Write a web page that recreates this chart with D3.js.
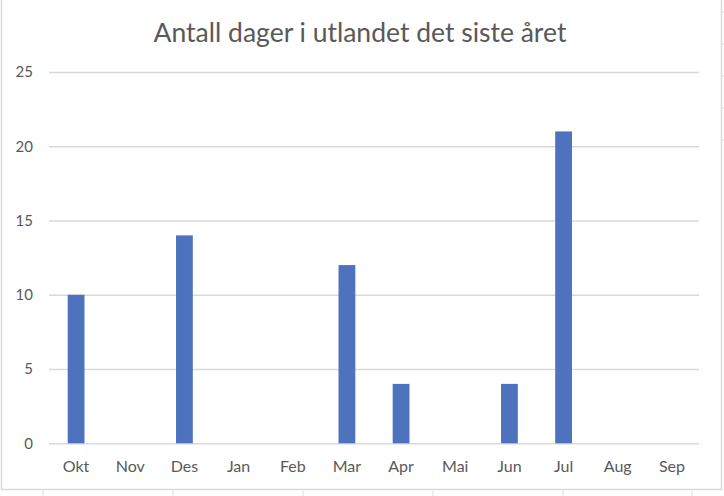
<!DOCTYPE html>
<html><head><meta charset="utf-8">
<script src="https://cdn.jsdelivr.net/npm/d3@7"></script>
<style>body{margin:0;background:#fff}svg{display:block}</style>
</head><body>
<script>
const categories = ["Okt","Nov","Des","Jan","Feb","Mar","Apr","Mai","Jun","Jul","Aug","Sep"];
const values = [10,0,14,0,0,12,4,0,4,21,0,0];
const yTicks = [0,5,10,15,20,25];
const title = "Antall dager i utlandet det siste året";

const W=724,H=496;
const svg=d3.select("body").append("svg").attr("width",W).attr("height",H);
const font="Lato, 'Open Sans', sans-serif";
const grey="#595959";

// spreadsheet background lines
[43,173,303,433,563,692].forEach(x=>svg.append("line").attr("x1",x).attr("x2",x).attr("y1",491).attr("y2",496).attr("stroke","#d9d9d9"));
[12,44,76,108,140].forEach(y=>svg.append("line").attr("x1",721).attr("x2",724).attr("y1",y).attr("y2",y).attr("stroke","#d9d9d9"));
// chart frame
svg.append("rect").attr("x",1.5).attr("y",-5).attr("width",720).attr("height",494.5)
  .attr("fill","#fff").attr("stroke","#d9d9d9").attr("stroke-width",1.5);

const x=d3.scaleBand().domain(categories).range([49,699]).paddingInner(0.69).paddingOuter(0.345);
const y=d3.scaleLinear().domain([0,25]).range([443.3,72]);

const gy=svg.append("g").attr("transform","translate(49,0)")
  .call(d3.axisLeft(y).tickValues(yTicks).tickSize(-650).tickPadding(16));
gy.select(".domain").remove();
gy.selectAll(".tick line").attr("stroke","#d9d9d9").attr("stroke-width",1.5);
gy.selectAll(".tick text").attr("fill",grey).style("font-family",font).style("font-size","15px");

svg.append("g").selectAll("rect").data(values).join("rect")
  .attr("x",(d,i)=>x(categories[i])).attr("width",x.bandwidth())
  .attr("y",d=>y(d)).attr("height",d=>y(0)-y(d)).attr("fill","#4e73be");

const gx=svg.append("g").attr("transform","translate(0,443.3)")
  .call(d3.axisBottom(x).tickSize(0).tickPadding(17));
gx.select(".domain").remove();
gx.selectAll(".tick text").attr("fill",grey).style("font-family",font).style("font-size","16px");

svg.append("text").attr("x",360).attr("y",42).attr("text-anchor","middle")
  .attr("fill",grey).style("font-family",font).style("font-size","26.5px").text(title);
</script>
</body></html>
